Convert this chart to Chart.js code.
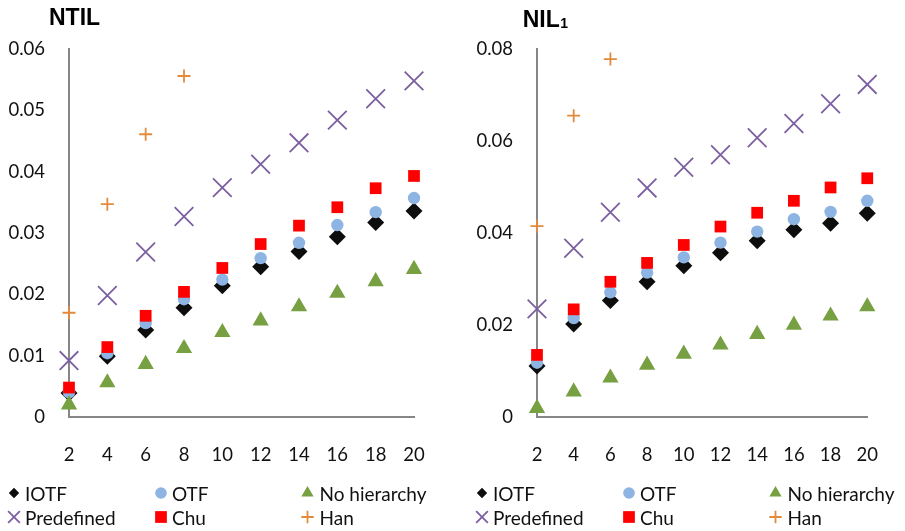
<!DOCTYPE html>
<html><head><meta charset="utf-8">
<script src="https://cdn.jsdelivr.net/npm/chart.js@4/dist/chart.umd.min.js"></script>
<style>
html,body{margin:0;padding:0;background:#fff;width:905px;height:531px;overflow:hidden;}
canvas{position:absolute;top:0;}
#c1{left:0px}
#c2{left:468px}
</style></head><body>
<canvas id="c1" width="468" height="531"></canvas>
<canvas id="c2" width="437" height="531"></canvas>
<script>
// ---------- data ----------
const xValues = [2, 4, 6, 8, 10, 12, 14, 16, 18, 20];
const xTickLabels = ['2', '4', '6', '8', '10', '12', '14', '16', '18', '20'];
const seriesNames = ['IOTF', 'OTF', 'No hierarchy', 'Predefined', 'Chu', 'Han'];

// NTIL
const ntilIOTF    = [0.0039, 0.0099, 0.0142, 0.0178, 0.0214, 0.0245, 0.0270, 0.0294, 0.0317, 0.0336];
const ntilOTF     = [0.0040, 0.0104, 0.0153, 0.0192, 0.0224, 0.0259, 0.0284, 0.0313, 0.0334, 0.0357];
const ntilNoHier  = [0.0020, 0.0056, 0.0086, 0.0112, 0.0138, 0.0157, 0.0180, 0.0202, 0.0221, 0.0241];
const ntilPredef  = [0.0092, 0.0198, 0.0269, 0.0327, 0.0374, 0.0412, 0.0447, 0.0484, 0.0519, 0.0548];
const ntilChu     = [0.0048, 0.0114, 0.0165, 0.0204, 0.0243, 0.0282, 0.0312, 0.0342, 0.0373, 0.0393];
const ntilHan     = [0.0170, 0.0347, 0.0461, 0.0556];
const ntilYTicks  = ['0', '0.01', '0.02', '0.03', '0.04', '0.05', '0.06'];

// NIL1
const nilIOTF     = [0.0111, 0.0202, 0.0253, 0.0294, 0.0329, 0.0357, 0.0383, 0.0407, 0.0421, 0.0443];
const nilOTF      = [0.0118, 0.0215, 0.0271, 0.0314, 0.0347, 0.0379, 0.0403, 0.0430, 0.0446, 0.0470];
const nilNoHier   = [0.0019, 0.0055, 0.0085, 0.0113, 0.0137, 0.0157, 0.0180, 0.0200, 0.0220, 0.0240];
const nilPredef   = [0.0235, 0.0367, 0.0445, 0.0498, 0.0543, 0.0570, 0.0607, 0.0638, 0.0681, 0.0723];
const nilChu      = [0.0135, 0.0234, 0.0294, 0.0335, 0.0374, 0.0414, 0.0444, 0.0470, 0.0499, 0.0519];
const nilHan      = [0.0415, 0.0655, 0.0778];
const nilYTicks   = ['0', '0.02', '0.04', '0.06', '0.08'];

// ---------- styles ----------
const markerStyles = [
  { pointStyle: 'rectRot',  color: '#0D0D0D', radius: 8.5,  legendRadius: 5.2, line: 1 },
  { pointStyle: 'circle',   color: '#8DB4E2', radius: 6.2,  legendRadius: 5.8, line: 1 },
  { pointStyle: 'triangle', color: '#77A042', radius: 9.4,  legendRadius: 7.1, line: 1 },
  { pointStyle: 'crossRot', color: '#7B5FA0', radius: 13.2, legendRadius: 8.3, line: 1.8 },
  { pointStyle: 'rect',     color: '#FF0000', radius: 8.3,  legendRadius: 8.3, line: 1 },
  { pointStyle: 'cross',    color: '#E38A3C', radius: 6.5,  legendRadius: 6.2, line: 1.8 }
];
const FONT = 'Lato, "Open Sans", sans-serif';

function toPoints(arr) { return arr.map((v, i) => ({ x: xValues[i], y: v })); }

function makeDatasets(seriesList) {
  return seriesList.map((arr, i) => {
    const s = markerStyles[i];
    const filled = !(s.pointStyle === 'cross' || s.pointStyle === 'crossRot');
    return {
      label: seriesNames[i],
      data: toPoints(arr),
      showLine: false,
      pointStyle: s.pointStyle,
      pointRadius: s.radius,
      pointHoverRadius: s.radius,
      backgroundColor: s.color,
      borderColor: s.color,
      pointBorderWidth: filled ? 0 : s.line,
      borderWidth: filled ? 0 : s.line,
      clip: false,
      order: seriesList.length - i
    };
  });
}

function drawMarker(ctx, s, r, x, y) {
  ctx.save();
  ctx.fillStyle = s.color;
  ctx.strokeStyle = s.color;
  ctx.lineWidth = s.line;
  ctx.beginPath();
  const d = r * Math.SQRT1_2;
  switch (s.pointStyle) {
    case 'rectRot':
      ctx.moveTo(x, y - r); ctx.lineTo(x + r, y); ctx.lineTo(x, y + r); ctx.lineTo(x - r, y); ctx.closePath(); ctx.fill(); break;
    case 'circle':
      ctx.arc(x, y, r, 0, Math.PI * 2); ctx.fill(); break;
    case 'triangle':
      ctx.moveTo(x, y - r); ctx.lineTo(x + r * 0.866, y + r * 0.5); ctx.lineTo(x - r * 0.866, y + r * 0.5); ctx.closePath(); ctx.fill(); break;
    case 'crossRot':
      ctx.moveTo(x - d, y - d); ctx.lineTo(x + d, y + d); ctx.moveTo(x + d, y - d); ctx.lineTo(x - d, y + d); ctx.stroke(); break;
    case 'rect':
      ctx.rect(x - d, y - d, 2 * d, 2 * d); ctx.fill(); break;
    case 'cross':
      ctx.moveTo(x, y - r); ctx.lineTo(x, y + r); ctx.moveTo(x - r, y); ctx.lineTo(x + r, y); ctx.stroke(); break;
  }
  ctx.restore();
}

const legendGridPlugin = {
  id: 'legendGrid',
  afterDraw(chart, args, opts) {
    const ctx = chart.ctx;
    const markerX = opts.markerX, textX = opts.textX, rows = opts.rows;
    chart.data.datasets.forEach((ds, i) => {
      const col = i % 3, row = Math.floor(i / 3);
      const s = markerStyles[i];
      const y = rows[row];
      drawMarker(ctx, s, s.legendRadius, markerX[col], y);
      ctx.save();
      ctx.fillStyle = '#111';
      ctx.font = '19px ' + FONT;
      ctx.textBaseline = 'middle';
      ctx.textAlign = 'left';
      ctx.fillText(ds.label, textX[col], y + 1.5);
      ctx.restore();
    });
  }
};

const titlePlugin = {
  id: 'panelTitle',
  afterDraw(chart, args, opts) {
    const ctx = chart.ctx;
    ctx.save();
    ctx.fillStyle = '#000';
    ctx.textBaseline = 'alphabetic';
    ctx.textAlign = 'left';
    ctx.font = 'bold 23px "Liberation Sans", Arial, sans-serif';
    ctx.fillText(opts.text, opts.x, opts.y);
    if (opts.sub) {
      const w = ctx.measureText(opts.text).width;
      ctx.font = 'bold 14px "Liberation Sans", Arial, sans-serif';
      ctx.fillText(opts.sub, opts.x + w + 0.5, opts.y + 1.7);
    }
    ctx.restore();
  }
};

function makeChart(canvasId, seriesList, yMax, yStep, yTicks, padRight, title) {
  return new Chart(document.getElementById(canvasId), {
    type: 'scatter',
    data: { datasets: makeDatasets(seriesList) },
    plugins: [legendGridPlugin, titlePlugin],
    options: {
      responsive: false,
      animation: false,
      events: [],
      layout: { padding: { left: 0, right: padRight, top: 49, bottom: 54 } },
      plugins: {
        legend: { display: false },
        tooltip: { enabled: false },
        title: { display: false },
        legendGrid: { markerX: [14, 161, 307.5], textX: [25, 172, 319.5], rows: [493, 517] },
        panelTitle: title
      },
      scales: {
        x: {
          type: 'linear',
          min: 2, max: 20,
          afterFit(scale) { scale.height = 60; },
          grid: { display: false, drawTicks: false },
          border: { display: true, color: '#868686', width: 2 },
          ticks: {
            stepSize: 2,
            padding: 27,
            color: '#111',
            font: { family: FONT, size: 18.5 },
            maxRotation: 0,
            callback: (v) => { const k = xValues.indexOf(v); return k >= 0 ? xTickLabels[k] : ''; }
          }
        },
        y: {
          min: 0, max: yMax,
          afterFit(scale) { scale.width = 69; },
          grid: { display: false, drawTicks: false },
          border: { display: true, color: '#868686', width: 2 },
          ticks: {
            stepSize: yStep,
            padding: 24,
            color: '#111',
            font: { family: FONT, size: 18.5 },
            callback: (v, i) => yTicks[i]
          }
        }
      }
    }
  });
}

makeChart('c1', [ntilIOTF, ntilOTF, ntilNoHier, ntilPredef, ntilChu, ntilHan], 0.06, 0.01, ntilYTicks, 54,
  { text: 'NTIL', x: 49, y: 25 });
makeChart('c2', [nilIOTF, nilOTF, nilNoHier, nilPredef, nilChu, nilHan], 0.08, 0.02, nilYTicks, 22,
  { text: 'NIL', sub: '1', x: 54.7, y: 26.7 });
</script>
</body></html>
